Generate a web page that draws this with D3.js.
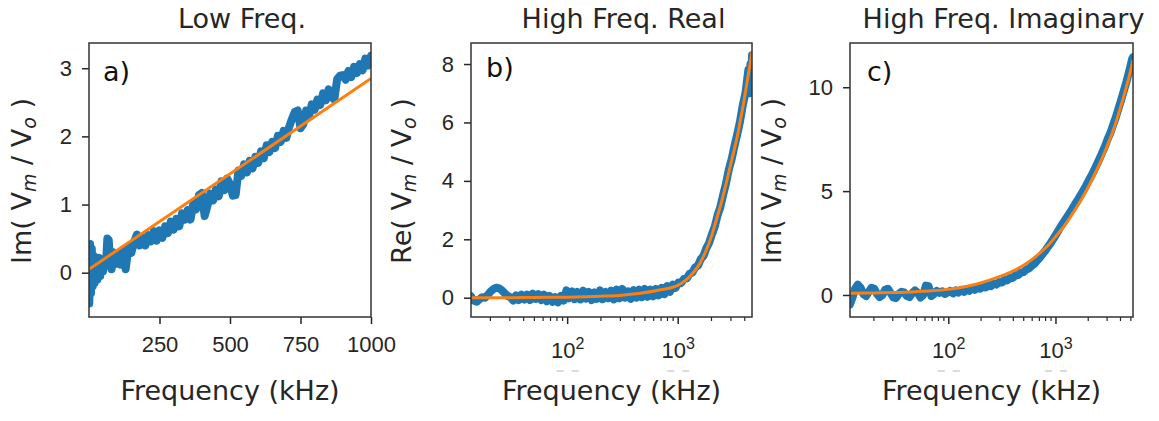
<!DOCTYPE html>
<html>
<head>
<meta charset="utf-8">
<script src="https://cdn.jsdelivr.net/npm/d3@7"></script>
<style>
  body { margin: 0; background: #fff; }
  svg { display: block; font-family: "DejaVu Sans", sans-serif; }
  text { white-space: pre; }
</style>
</head>
<body>
<div id="chart"></div>
<script>
// Panel a: low frequency, Im(Vm/Vo) vs frequency (kHz), measured
const lowFreqData = [
  [1,-0.45],[4,0.42],[7,-0.3],[10,0.35],[13,-0.2],[16,0.25],[20,-0.15],[25,0.2],[30,-0.1],[35,0.22],
  [40,-0.05],[45,0.18],[50,0.02],[55,0.2],[60,0.1],[65,0.5],[70,0.48],[75,0.15],[80,0.05],[85,0.3],
  [90,0.12],[95,0.28],[100,0.15],[110,0.12],[120,0.33],[130,0.05],[140,0.38],[150,0.29],[160,0.45],[170,0.56],
  [180,0.40],[190,0.52],[200,0.40],[210,0.55],[220,0.46],[230,0.61],[240,0.47],[250,0.62],[260,0.51],[270,0.68],
  [280,0.58],[290,0.75],[300,0.63],[310,0.79],[320,0.68],[330,0.87],[340,0.78],[350,0.92],[360,0.78],[370,1.02],
  [380,0.93],[390,1.14],[400,1.17],[410,0.83],[420,0.98],[430,1.16],[440,1.06],[450,1.22],[460,1.12],[470,1.34],
  [480,1.21],[490,1.38],[500,1.30],[510,1.13],[520,1.14],[530,1.50],[540,1.42],[550,1.59],[560,1.47],[570,1.64],
  [580,1.53],[590,1.70],[600,1.61],[610,1.78],[620,1.68],[630,1.87],[640,1.77],[650,1.92],[660,1.83],[670,2.01],
  [680,1.92],[690,2.08],[700,1.98],[710,2.14],[720,2.26],[730,2.36],[740,2.38],[750,2.12],[760,2.18],[770,2.38],
  [780,2.30],[790,2.47],[800,2.39],[810,2.54],[820,2.46],[830,2.63],[840,2.53],[850,2.69],[860,2.58],[870,2.54],
  [880,2.84],[890,2.89],[900,2.90],[910,2.83],[920,2.96],[930,2.87],[940,3.02],[950,2.93],[960,3.06],[970,2.97],
  [980,3.14],[990,3.04],[1000,3.18]
];
// Panel a: linear fit
const lowFreqFit = [[0, 0.05], [1000, 2.85]];

// Panel b: high frequency, Re(Vm/Vo), measured
const highRealData = [
  [13.5,0.05],[14.3,-0.1],[15.2,-0.14],[16.1,-0.05],[17.1,0.02],[18.1,0.0],[19.2,0.1],[20.4,0.22],[21.6,0.3],[22.9,0.34],
  [24.3,0.32],[25.7,0.25],[27.3,0.15],[28.9,0.06],[30.7,0.02],[32.5,-0.1],[34.5,0.08],[36.5,-0.08],[38.7,0.1],[41.1,-0.06],
  [43.5,0.1],[46.2,-0.08],[48.9,0.14],[51.9,-0.04],[55.0,0.12],[58.3,-0.08],[61.8,0.1],[65.5,-0.12],[69.4,0.06],[73.6,-0.14],
  [78.0,0.02],[82.7,-0.16],[87.7,0.06],[92.9,-0.1],[98.5,0.25],[104,-0.02],[111,0.22],[117,-0.05],[124,0.2],[132,-0.06],
  [140,0.24],[148,-0.03],[157,0.2],[167,-0.08],[177,0.18],[187,-0.04],[198,0.25],[210,-0.05],[223,0.2],[236,-0.02],
  [250,0.24],[265,-0.06],[281,0.28],[298,-0.02],[316,0.3],[335,0.0],[355,0.22],[376,-0.04],[399,0.26],[423,0.0],
  [448,0.28],[475,0.02],[504,0.3],[534,0.03],[566,0.28],[600,0.05],[636,0.3],[674,0.08],[715,0.34],[758,0.12],
  [803,0.4],[851,0.2],[902,0.45],[956,0.34],[1014,0.52],[1075,0.5],[1139,0.64],[1208,0.66],[1280,0.82],[1357,0.86],
  [1438,1.04],[1525,1.1],[1616,1.32],[1713,1.43],[1816,1.7],[1925,1.88],[2041,2.17],[2163,2.43],[2293,2.82],[2431,3.1],
  [2577,3.52],[2731,3.9],[2895,4.37],[3069,4.73],[3253,5.17],[3448,5.58],[3655,6.02],[3875,6.58],[4107,7.02],[4354,7.8],
  [4480,7.0],[4550,8.0],[4615,7.4],[4700,8.3]
];
// Panel b: fit
const highRealFit = [
  [13.5,0.0],[20,0.0],[30,0.0],[50,0.01],[100,0.02],[200,0.05],[300,0.08],[460,0.15],[700,0.27],[1000,0.42],
  [1200,0.62],[1400,0.88],[1600,1.2],[1800,1.6],[2000,2.05],[2270,2.75],[2500,3.3],[2800,4.05],[3100,4.75],[3450,5.5],
  [3700,6.1],[3960,6.7],[4250,7.4],[4540,8.05],[4700,8.4]
];

// Panel c: high frequency, Im(Vm/Vo), measured
const highImagData = [
  [12.1,-0.45],[12.8,-0.1],[13.5,0.3],[14.3,0.5],[15.2,0.35],[16.1,0.05],[17.1,-0.05],[18.1,0.15],[19.2,0.35],[20.4,0.3],
  [21.6,0.05],[22.9,-0.1],[24.3,0.0],[25.7,0.25],[27.3,0.3],[28.9,0.1],[30.7,-0.12],[32.5,-0.15],[34.5,0.05],[36.5,0.15],
  [38.7,0.12],[41.1,-0.05],[43.5,-0.1],[46.2,0.1],[48.9,0.22],[51.9,0.1],[55.0,-0.12],[58.3,0.0],[61.8,0.45],[65.5,0.42],
  [69.4,-0.05],[73.6,0.05],[78.0,0.2],[82.7,0.1],[87.7,0.18],[92.9,0.05],[98.5,0.12],[104,0.2],[111,0.08],[117,0.22],
  [124,0.12],[132,0.25],[140,0.15],[148,0.28],[157,0.2],[167,0.33],[177,0.25],[187,0.38],[198,0.3],[210,0.42],
  [223,0.36],[236,0.48],[250,0.42],[265,0.55],[281,0.5],[298,0.62],[316,0.6],[335,0.72],[355,0.7],[376,0.82],
  [399,0.82],[423,0.95],[448,0.95],[475,1.08],[504,1.1],[534,1.22],[566,1.28],[600,1.4],[636,1.5],[674,1.65],
  [715,1.8],[758,1.97],[803,2.13],[851,2.32],[902,2.5],[956,2.7],[1014,2.92],[1075,3.14],[1139,3.36],[1208,3.55],
  [1280,3.75],[1357,3.95],[1438,4.15],[1525,4.38],[1616,4.58],[1713,4.8],[1816,5.02],[1925,5.25],[2041,5.5],[2163,5.74],
  [2293,6.0],[2431,6.28],[2577,6.56],[2731,6.85],[2895,7.15],[3069,7.5],[3253,7.8],[3448,8.18],[3655,8.55],[3875,8.98],
  [4107,9.4],[4354,9.85],[4615,10.3],[4892,10.8],[5186,11.35],[5290,11.45]
];
// Panel c: fit
const highImagFit = [
  [12.1,0.08],[20,0.1],[30,0.12],[50,0.16],[70,0.2],[100,0.27],[150,0.42],[200,0.58],[300,0.88],[400,1.15],
  [500,1.42],[600,1.7],[700,1.98],[800,2.25],[900,2.52],[1000,2.8],[1200,3.3],[1500,4.05],[1745,4.6],[2000,5.15],
  [2500,6.15],[3000,7.1],[3500,8.0],[4000,8.95],[4500,9.85],[5000,10.75],[5290,11.3]
];

// Tick values
const lowFreqXTicks = [250, 500, 750, 1000];
const lowFreqYTicks = [0, 1, 2, 3];
const logMajorTicks = [100, 1000];
const logMinorTicks = [20, 30, 40, 50, 60, 70, 80, 90, 200, 300, 400, 500, 600, 700, 800, 900, 2000, 3000, 4000, 5000];
const highRealYTicks = [0, 2, 4, 6, 8];
const highImagYTicks = [0, 5, 10];

const width = 1159, height = 421;
const blue = "#1f77b4", orange = "#ff7f0e", ink = "#262626";

const svg = d3.select("#chart")
  .append("svg")
  .attr("width", width)
  .attr("height", height);

function drawPanel(p) {
  const x = (p.logX ? d3.scaleLog() : d3.scaleLinear())
    .domain(p.xDomain)
    .range([p.left, p.right]);
  const y = d3.scaleLinear()
    .domain(p.yDomain)
    .range([p.bottom, p.top]);

  const clipId = "clip-" + p.tag[0];
  svg.append("clipPath")
    .attr("id", clipId)
    .append("rect")
    .attr("x", p.left)
    .attr("y", p.top)
    .attr("width", p.right - p.left)
    .attr("height", p.bottom - p.top);

  const line = d3.line().x(d => x(d[0])).y(d => y(d[1]));
  const plot = svg.append("g").attr("clip-path", `url(#${clipId})`);

  // measured data: thick blue
  plot.append("path")
    .datum(p.data)
    .attr("d", line)
    .attr("fill", "none")
    .attr("stroke", blue)
    .attr("stroke-width", 8)
    .attr("stroke-linejoin", "round")
    .attr("stroke-linecap", "round");

  // fit: orange
  plot.append("path")
    .datum(p.fit)
    .attr("d", line.curve(d3.curveMonotoneX))
    .attr("fill", "none")
    .attr("stroke", orange)
    .attr("stroke-width", 3);

  // x axis
  const xAxis = d3.axisBottom(x).tickValues(p.xTicks).tickSize(7);
  if (!p.logX) xAxis.tickFormat(d3.format("d"));
  const gx = svg.append("g")
    .attr("transform", `translate(0,${p.bottom})`)
    .call(xAxis);
  gx.select(".domain").remove();
  gx.selectAll(".tick line").attr("stroke", ink).attr("stroke-width", 1.5);
  const xt = gx.selectAll(".tick text")
    .attr("fill", ink)
    .attr("font-size", 22)
    .attr("dy", 0);

  if (p.logX) {
    xt.attr("y", 41).text("10")
      .append("tspan")
      .attr("font-size", 16)
      .attr("dy", -9)
      .text(d => Math.round(Math.log10(d)));
    // faint clipped offset marks below the labels
    for (const [a, b] of [[-11, -4], [4, 11]]) {
      gx.selectAll(".tick").append("line")
        .attr("x1", a).attr("x2", b)
        .attr("y1", 54).attr("y2", 54)
        .attr("stroke", "#cfcfcf")
        .attr("stroke-width", 1.5);
    }

    const minor = p.minorTicks.filter(v => v > p.xDomain[0] && v < p.xDomain[1]);
    const gm = svg.append("g")
      .attr("transform", `translate(0,${p.bottom})`)
      .call(d3.axisBottom(x).tickValues(minor).tickSize(4).tickFormat(""));
    gm.select(".domain").remove();
    gm.selectAll(".tick line").attr("stroke", ink).attr("stroke-width", 1.2);
  } else {
    xt.attr("y", 35);
  }

  // y axis
  const gy = svg.append("g")
    .attr("transform", `translate(${p.left},0)`)
    .call(d3.axisLeft(y).tickValues(p.yTicks).tickSize(7).tickPadding(10).tickFormat(d3.format("d")));
  gy.select(".domain").remove();
  gy.selectAll(".tick line").attr("stroke", ink).attr("stroke-width", 1.5);
  gy.selectAll(".tick text").attr("fill", ink).attr("font-size", 22);

  // frame
  svg.append("rect")
    .attr("x", p.left)
    .attr("y", p.top)
    .attr("width", p.right - p.left)
    .attr("height", p.bottom - p.top)
    .attr("fill", "none")
    .attr("stroke", "#333")
    .attr("stroke-width", 1.5);

  const cx = (p.left + p.right) / 2;

  // title
  svg.append("text")
    .attr("x", cx + 12)
    .attr("y", 28)
    .attr("text-anchor", "middle")
    .attr("font-size", 27)
    .attr("fill", ink)
    .text(p.title);

  // x label
  svg.append("text")
    .attr("x", cx)
    .attr("y", 400)
    .attr("text-anchor", "middle")
    .attr("font-size", 27)
    .attr("fill", ink)
    .text("Frequency (kHz)");

  // y label with subscripts
  const yl = svg.append("text")
    .attr("transform", `translate(${p.yLabelX},181) rotate(-90)`)
    .attr("text-anchor", "middle")
    .attr("font-size", 27)
    .attr("fill", ink);
  yl.append("tspan").text(p.yLabelPrefix + "( V");
  yl.append("tspan").attr("font-size", 19).attr("font-style", "italic").attr("dy", 5).text("m");
  yl.append("tspan").attr("dy", -5).text(" / V");
  yl.append("tspan").attr("font-size", 19).attr("font-style", "italic").attr("dy", 5).text("o");
  yl.append("tspan").attr("dy", -5).text(" )");

  // panel tag
  svg.append("text")
    .attr("x", p.left + p.tagDx)
    .attr("y", p.tagY)
    .attr("font-size", 27)
    .attr("fill", "#111")
    .text(p.tag);
}

drawPanel({
  left: 89, right: 371, top: 43, bottom: 317,
  xDomain: [0, 1000], yDomain: [-0.65, 3.37], logX: false,
  data: lowFreqData, fit: lowFreqFit,
  xTicks: lowFreqXTicks, yTicks: lowFreqYTicks,
  title: "Low Freq.", yLabelPrefix: "Im", yLabelX: 31,
  tag: "a)", tagDx: 14, tagY: 81
});

drawPanel({
  left: 471, right: 752, top: 43, bottom: 317,
  xDomain: [13.5, 4700], yDomain: [-0.66, 8.72], logX: true,
  data: highRealData, fit: highRealFit,
  xTicks: logMajorTicks, minorTicks: logMinorTicks, yTicks: highRealYTicks,
  title: "High Freq. Real", yLabelPrefix: "Re", yLabelX: 411,
  tag: "b)", tagDx: 15, tagY: 77
});

drawPanel({
  left: 850, right: 1133, top: 43, bottom: 317,
  xDomain: [12.1, 5290], yDomain: [-1.06, 12.13], logX: true,
  data: highImagData, fit: highImagFit,
  xTicks: logMajorTicks, minorTicks: logMinorTicks, yTicks: highImagYTicks,
  title: "High Freq. Imaginary", yLabelPrefix: "Im", yLabelX: 781,
  tag: "c)", tagDx: 17, tagY: 81
});
</script>
</body>
</html>
